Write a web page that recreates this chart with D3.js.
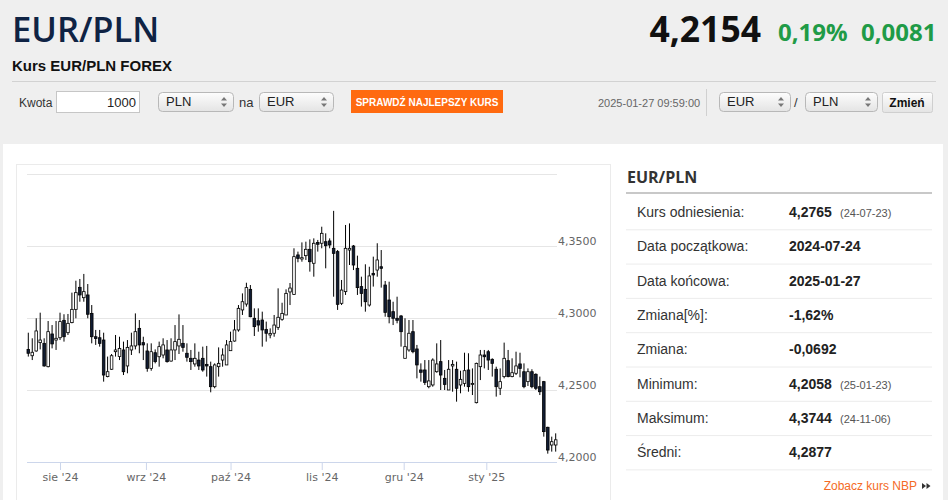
<!DOCTYPE html>
<html>
<head>
<meta charset="utf-8">
<script src="https://cdn.jsdelivr.net/npm/d3@7"></script>
<style>
	body { margin: 0; background: #efefef; overflow: hidden; }
	svg { display: block; }
</style>
</head>
<body>
<svg id="chart" width="948" height="500"></svg>
<script>
// trading days: weekdays between these dates, minus the holidays
const firstDay = '2024-07-22'
const lastDay = '2025-01-27'
const holidays = ['2024-12-25', '2025-01-01']

const opens = [4.2782,4.2738,4.2771,4.2829,4.2824,4.2662,4.2889,4.2847,4.2863,4.2984,4.2898,4.2968,4.3060,4.3213,4.3141,4.3160,4.3032,4.2870,4.2863,4.2847,4.2593,4.2644,4.2766,4.2732,4.2778,4.2667,4.2778,4.2806,4.2928,4.2829,4.2771,4.2650,4.2759,4.2731,4.2743,4.2778,4.2701,4.2778,4.2806,4.2824,4.2755,4.2720,4.2681,4.2708,4.2720,4.2678,4.2662,4.2523,4.2662,4.2708,4.2674,4.2773,4.2840,4.2917,4.3056,4.3097,4.3199,4.2998,4.2981,4.2986,4.2921,4.2882,4.2894,4.2935,4.2991,4.3021,4.3181,4.3164,4.3438,4.3410,4.3433,4.3477,4.3380,4.3525,4.3519,4.3530,4.3535,4.3484,4.3461,4.3102,4.3183,4.3472,4.3500,4.3345,4.3218,4.3199,4.3090,4.3310,4.3333,4.3356,4.3229,4.3125,4.3044,4.2998,4.3014,4.2720,4.2778,4.2905,4.2785,4.2639,4.2639,4.2523,4.2535,4.2627,4.2697,4.2581,4.2500,4.2667,4.2644,4.2535,4.2546,4.2639,4.2539,4.2412,4.2662,4.2743,4.2766,4.2713,4.2644,4.2512,4.2593,4.2704,4.2593,4.2616,4.2681,4.2627,4.2558,4.2627,4.2609,4.2523,4.2558,4.2241,4.2118,4.2118]
const highs = [4.2898,4.2859,4.2998,4.3037,4.2859,4.2979,4.2951,4.2979,4.3037,4.3026,4.3028,4.3176,4.3259,4.3271,4.3306,4.3236,4.3090,4.2917,4.2917,4.2898,4.2732,4.2750,4.2882,4.2870,4.2836,4.2847,4.2898,4.3032,4.2986,4.2870,4.2824,4.2824,4.2782,4.2836,4.2859,4.2847,4.2859,4.2951,4.3025,4.2951,4.2824,4.2778,4.2824,4.2766,4.2801,4.2806,4.2697,4.2685,4.2796,4.2789,4.2847,4.2905,4.2986,4.3090,4.3171,4.3245,4.3229,4.3067,4.3067,4.3044,4.2975,4.2928,4.3021,4.3206,4.3106,4.3199,4.3243,4.3484,4.3461,4.3525,4.3530,4.3546,4.3553,4.3542,4.3634,4.3588,4.3553,4.3744,4.3472,4.3264,4.3646,4.3657,4.3507,4.3433,4.3287,4.3373,4.3356,4.3426,4.3519,4.3472,4.3257,4.3252,4.3113,4.3148,4.3021,4.2998,4.2986,4.2986,4.2813,4.2685,4.2708,4.2708,4.2720,4.2824,4.2847,4.2639,4.2708,4.2708,4.2697,4.2634,4.2759,4.2755,4.2650,4.2690,4.2778,4.2778,4.2778,4.2720,4.2662,4.2650,4.2829,4.2778,4.2720,4.2766,4.2759,4.2685,4.2650,4.2644,4.2616,4.2593,4.2563,4.2245,4.2176,4.2199]
const lows = [4.2732,4.2708,4.2766,4.2782,4.2662,4.2657,4.2789,4.2778,4.2847,4.2836,4.2882,4.2963,4.2998,4.3113,4.3113,4.2998,4.2824,4.2813,4.2801,4.2558,4.2588,4.2639,4.2732,4.2708,4.2604,4.2616,4.2743,4.2782,4.2755,4.2708,4.2627,4.2634,4.2685,4.2662,4.2720,4.2690,4.2697,4.2708,4.2750,4.2766,4.2697,4.2639,4.2662,4.2639,4.2627,4.2593,4.2484,4.2512,4.2593,4.2662,4.2674,4.2773,4.2836,4.2905,4.3021,4.3079,4.3005,4.2875,4.2905,4.2801,4.2836,4.2859,4.2870,4.2917,4.2981,4.3021,4.3090,4.3160,4.3387,4.3391,4.3403,4.3322,4.3287,4.3461,4.3484,4.3345,4.3484,4.3148,4.3056,4.3090,4.3160,4.3368,4.3333,4.3160,4.3079,4.3044,4.3079,4.3218,4.3287,4.3211,4.3009,4.2963,4.2951,4.2963,4.2801,4.2720,4.2766,4.2755,4.2581,4.2558,4.2535,4.2512,4.2523,4.2620,4.2500,4.2500,4.2500,4.2488,4.2419,4.2477,4.2523,4.2488,4.2465,4.2407,4.2569,4.2650,4.2639,4.2593,4.2454,4.2465,4.2581,4.2588,4.2588,4.2604,4.2588,4.2512,4.2528,4.2512,4.2500,4.2465,4.2176,4.2058,4.2072,4.2072]
const closes = [4.2755,4.2762,4.2910,4.2847,4.2667,4.2905,4.2820,4.2859,4.2975,4.2870,4.2963,4.3060,4.3176,4.3160,4.3183,4.3026,4.2870,4.2857,4.2824,4.2604,4.2627,4.2738,4.2778,4.2789,4.2627,4.2796,4.2806,4.2905,4.2813,4.2813,4.2650,4.2766,4.2697,4.2801,4.2813,4.2697,4.2778,4.2836,4.2852,4.2796,4.2727,4.2697,4.2720,4.2667,4.2639,4.2667,4.2523,4.2674,4.2685,4.2743,4.2813,4.2836,4.2917,4.3067,4.3113,4.3211,4.3009,4.2940,4.2951,4.2917,4.2894,4.2892,4.2951,4.3005,4.3032,4.3171,4.3208,4.3426,4.3414,4.3419,4.3477,4.3391,4.3519,4.3512,4.3588,4.3502,4.3507,4.3449,4.3095,4.3194,4.3484,4.3484,4.3368,4.3211,4.3171,4.3113,4.3292,4.3299,4.3403,4.3345,4.3039,4.3009,4.2998,4.2984,4.2905,4.2801,4.2894,4.2766,4.2674,4.2623,4.2553,4.2563,4.2708,4.2681,4.2604,4.2539,4.2644,4.2678,4.2512,4.2574,4.2634,4.2523,4.2546,4.2685,4.2743,4.2731,4.2708,4.2685,4.2523,4.2558,4.2720,4.2593,4.2620,4.2667,4.2650,4.2523,4.2627,4.2523,4.2512,4.2488,4.2211,4.2083,4.2141,4.2154]

const yTicks = [4.20, 4.25, 4.30, 4.35, 4.40]
const monthStarts = ['2024-08-01', '2024-09-01', '2024-10-01', '2024-11-01', '2024-12-01', '2025-01-01']
const monthLabels = ["sie '24", "wrz '24", "paź '24", "lis '24", "gru '24", "sty '25"]

const statLabels = ['Kurs odniesienia:', 'Data początkowa:', 'Data końcowa:', 'Zmiana[%]:', 'Zmiana:', 'Minimum:', 'Maksimum:', 'Średni:']
const statValues = ['4,2765', '2024-07-24', '2025-01-27', '-1,62%', '-0,0692', '4,2058', '4,3744', '4,2877']
const statNotes = ['(24-07-23)', '', '', '', '', '(25-01-23)', '(24-11-06)', '']

const parse = d3.utcParse('%Y-%m-%d')
const fmt = d3.utcFormat('%Y-%m-%d')
const days = d3.utcDay.range(parse(firstDay), d3.utcDay.offset(parse(lastDay), 1))
	.filter(d => d.getUTCDay() !== 0 && d.getUTCDay() !== 6 && !holidays.includes(fmt(d)))

const data = days.map((d, i) => ({
	date: d,
	open: opens[i],
	high: highs[i],
	low: lows[i],
	close: closes[i]
}))

const svg = d3.select('#chart')
const font = 'Liberation Sans, Arial, sans-serif'
const navy = '#0f2344'
const green = '#1f9b47'
const orange = '#ff6a10'

// plot area
const plotLeft = 27
const plotRight = 557
const plotTop = 174
const plotBottom = 462

const xScale = d3.scaleLinear()
	.domain([0, data.length - 1])
	.range([28.3, 555.7])

// dates -> x, piecewise between trading days (for month ticks)
const xTime = d3.scaleUtc()
	.domain(data.map(d => d.date))
	.range(data.map((d, i) => xScale(i)))

const yScale = d3.scaleLinear()
	.domain([4.2, 4.4])
	.range([plotBottom, plotTop])

const defs = svg.append('defs')
const grad = defs.append('linearGradient')
	.attr('id', 'btn')
	.attr('x1', 0).attr('y1', 0).attr('x2', 0).attr('y2', 1)
grad.append('stop').attr('offset', '0%').attr('stop-color', '#fdfdfd')
grad.append('stop').attr('offset', '100%').attr('stop-color', '#e4e4e4')

/* HEADER */

svg.append('rect')
	.attr('width', 948)
	.attr('height', 500)
	.attr('fill', '#efefef')

svg.append('text')
	.text('EUR/PLN')
	.attr('x', 12)
	.attr('y', 42)
	.attr('fill', navy)
	.style('font-family', 'Open Sans')
	.style('font-weight', 600)
	.style('font-size', '34.5px')

svg.append('text')
	.text('Kurs EUR/PLN FOREX')
	.attr('x', 12)
	.attr('y', 71)
	.attr('fill', '#111')
	.style('font-family', font)
	.style('font-weight', 'bold')
	.style('font-size', '15px')

svg.append('text')
	.text('4,2154')
	.attr('x', 761)
	.attr('y', 42)
	.attr('text-anchor', 'end')
	.attr('fill', '#111')
	.style('font-family', 'Open Sans')
	.style('font-weight', 700)
	.style('font-size', '35.5px')

svg.append('text')
	.text('0,19%')
	.attr('x', 778)
	.attr('y', 41)
	.attr('fill', green)
	.style('font-family', 'Open Sans')
	.style('font-weight', 700)
	.style('font-size', '24px')

svg.append('text')
	.text('0,0081')
	.attr('x', 861)
	.attr('y', 41)
	.attr('fill', green)
	.style('font-family', 'Open Sans')
	.style('font-weight', 700)
	.style('font-size', '24px')

svg.append('line')
	.attr('x1', 12).attr('x2', 936)
	.attr('y1', 81.5).attr('y2', 81.5)
	.style('stroke', '#d2d2d2')

const label = (txt, x, y, size, color) => svg.append('text')
	.text(txt)
	.attr('x', x)
	.attr('y', y)
	.attr('fill', color || '#333')
	.style('font-family', font)
	.style('font-size', size + 'px')

// select box with the little up/down arrows
const select = (x, w, txt) => {
	const g = svg.append('g').attr('transform', `translate(${x}, 92)`)
	g.append('rect')
		.attr('x', 0.5).attr('y', 0.5)
		.attr('width', w).attr('height', 19)
		.attr('rx', 4)
		.attr('fill', 'url(#btn)')
		.style('stroke', '#b8b8b8')
	g.append('text')
		.text(txt)
		.attr('x', 8)
		.attr('y', 14)
		.attr('fill', '#222')
		.style('font-family', font)
		.style('font-size', '13px')
	g.append('path')
		.attr('d', `M ${w - 12} 8.5 L ${w - 9} 5 L ${w - 6} 8.5 Z M ${w - 12} 11.5 L ${w - 9} 15 L ${w - 6} 11.5 Z`)
		.attr('fill', '#777')
}

label('Kwota', 19, 107, 12)
svg.append('rect')
	.attr('x', 56.5).attr('y', 91.5)
	.attr('width', 83).attr('height', 21)
	.attr('fill', '#fff')
	.style('stroke', '#c6c6c6')
label('1000', 136, 107, 13, '#222').attr('text-anchor', 'end')

select(158, 75, 'PLN')
label('na', 239, 107, 13)
select(259, 74, 'EUR')

svg.append('rect')
	.attr('x', 351).attr('y', 90)
	.attr('width', 152).attr('height', 23)
	.attr('fill', orange)
label('SPRAWDŹ NAJLEPSZY KURS', 427, 106, 10, '#fff')
	.attr('text-anchor', 'middle')
	.style('font-weight', 'bold')

label('2025-01-27 09:59:00', 598, 107, 11, '#666')

svg.append('line')
	.attr('x1', 706.5).attr('x2', 706.5)
	.attr('y1', 89).attr('y2', 116)
	.style('stroke', '#d0d0d0')

select(719, 71, 'EUR')
label('/', 794, 107, 13)
select(805, 72, 'PLN')

svg.append('rect')
	.attr('x', 882.5).attr('y', 92.5)
	.attr('width', 50).attr('height', 20)
	.attr('rx', 2)
	.attr('fill', 'url(#btn)')
	.style('stroke', '#cfcfcf')
label('Zmień', 907, 107, 12, '#111')
	.attr('text-anchor', 'middle')
	.style('font-weight', 'bold')

/* PANEL */

svg.append('rect')
	.attr('x', 3).attr('y', 144)
	.attr('width', 940).attr('height', 360)
	.attr('fill', '#fff')

svg.append('rect')
	.attr('x', 16.5).attr('y', 164.5)
	.attr('width', 594).attr('height', 400)
	.attr('fill', '#fff')
	.style('stroke', '#ebebeb')

/* CHART */

const yAxis = d3.axisRight(yScale)
	.tickValues(yTicks)
	.tickSize(-(plotRight - plotLeft))
	.tickPadding(1)
	.tickFormat(d => d.toFixed(4).replace('.', ','))

const yTicksG = svg.append('g')
	.attr('transform', `translate(${plotRight}, 0)`)
	.call(yAxis)

yTicksG.select('path.domain').remove()
yTicksG.selectAll('.tick line')
	.style('stroke', '#e6e6e6')
yTicksG.selectAll('.tick text')
	.attr('y', -2)
	.attr('dy', 0)
	.attr('fill', '#666')
	.style('font-family', 'DejaVu Sans')
	.style('font-size', '11px')
// top label is not shown
yTicksG.selectAll('.tick text')
	.filter(d => d === 4.4)
	.remove()

const xAxis = d3.axisBottom(xTime)
	.tickValues(monthStarts.map(parse))
	.tickFormat((d, i) => monthLabels[i])
	.tickSize(8)
	.tickSizeOuter(0)

const xTicksG = svg.append('g')
	.attr('transform', `translate(0, ${plotBottom})`)
	.call(xAxis)

xTicksG.select('path.domain').remove()
xTicksG.selectAll('.tick line')
	.style('stroke', '#ccd6eb')
xTicksG.selectAll('.tick text')
	.attr('fill', '#666')
	.style('font-family', 'DejaVu Sans')
	.style('font-size', '11px')

svg.append('line')
	.attr('x1', plotLeft).attr('x2', plotRight)
	.attr('y1', plotBottom + 0.5).attr('y2', plotBottom + 0.5)
	.style('stroke', '#ccd6eb')

const candles = svg
	.selectAll('g.candle')
	.data(data)
	.enter()
	.append('g')
		.attr('class', 'candle')
		.attr('transform', (d, i) => `translate(${xScale(i)}, 0)`)

candles.append('line')
	.attr('x1', 0).attr('x2', 0)
	.attr('y1', d => yScale(d.high))
	.attr('y2', d => yScale(d.low))
	.style('stroke', '#000')
	.style('stroke-width', 1)

candles.append('rect')
	.attr('x', -1.3)
	.attr('width', 2.6)
	.attr('y', d => yScale(Math.max(d.open, d.close)))
	.attr('height', d => Math.max(0.8, Math.abs(yScale(d.open) - yScale(d.close))))
	.attr('fill', d => d.close >= d.open ? '#fff' : '#101c33')
	.style('stroke', '#000')
	.style('stroke-width', 0.8)

/* STATS TABLE */

svg.append('text')
	.text('EUR/PLN')
	.attr('x', 627)
	.attr('y', 183)
	.attr('fill', '#333')
	.style('font-family', 'Open Sans')
	.style('font-weight', 700)
	.style('font-size', '16px')

svg.append('line')
	.attr('x1', 626).attr('x2', 932)
	.attr('y1', 193).attr('y2', 193)
	.style('stroke', '#c8c8c8')
	.style('stroke-width', 2)

const rowTop = 195
const rowH = 34.3

const rows = svg
	.selectAll('g.row')
	.data(statLabels)
	.enter()
	.append('g')
		.attr('class', 'row')
		.attr('transform', (d, i) => `translate(0, ${rowTop + i * rowH})`)

rows.append('line')
	.attr('x1', 626).attr('x2', 932)
	.attr('y1', rowH + 0.5).attr('y2', rowH + 0.5)
	.style('stroke', '#ececec')

rows.append('text')
	.text(d => d)
	.attr('x', 637)
	.attr('y', 22)
	.attr('fill', '#333')
	.style('font-family', font)
	.style('font-size', '14px')

rows.append('text')
	.text((d, i) => statValues[i])
	.attr('x', 789)
	.attr('y', 22)
	.attr('fill', '#222')
	.style('font-family', font)
	.style('font-weight', 'bold')
	.style('font-size', '14px')

rows.append('text')
	.text((d, i) => statNotes[i])
	.attr('x', 840)
	.attr('y', 22)
	.attr('fill', '#555')
	.style('font-family', font)
	.style('font-size', '11px')

label('Zobacz kurs NBP', 917, 490, 12, '#f46a25')
	.attr('text-anchor', 'end')
svg.append('path')
	.attr('d', 'M 922 483 L 926 486 L 922 489 Z M 926.5 483 L 930.5 486 L 926.5 489 Z')
	.attr('fill', '#333')
</script>
</body>
</html>
